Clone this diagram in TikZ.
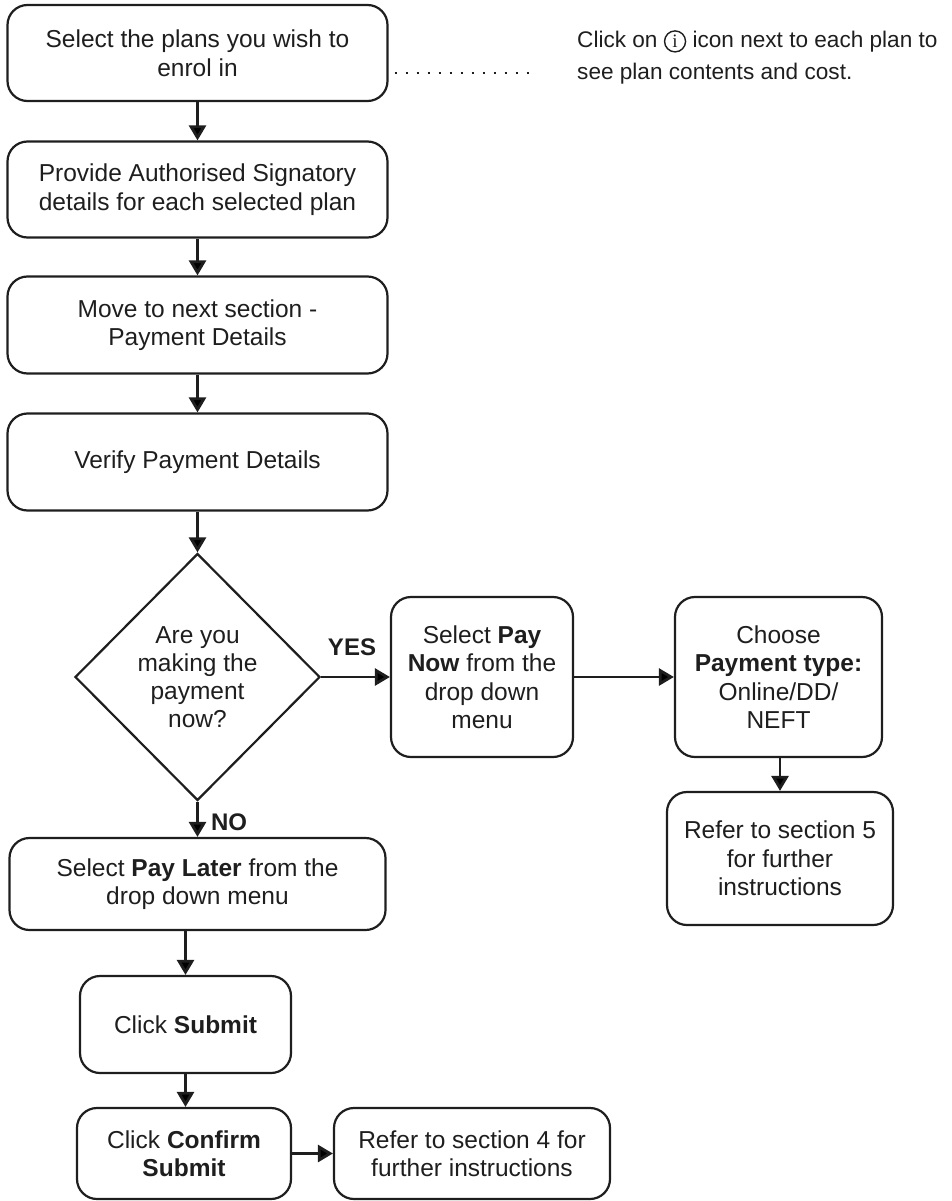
\documentclass[tikz,border=0pt]{standalone}
\usepackage{fontspec}
\setmainfont{Liberation Sans}
\newfontfamily\serifi{Liberation Serif}
\usetikzlibrary{shapes.geometric,arrows.meta}
\definecolor{ink}{HTML}{1E1E1E}
\tikzset{
  box/.style={draw=ink, line width=2.2pt, rounded corners=20pt, align=center, inner sep=2pt,
    font=\fontsize{24.5}{28.5}\selectfont, text=ink},
  arr/.style={draw=ink, line width=2.8pt, -{Triangle[length=15pt,width=17pt]}},
  lbl/.style={font=\fontsize{24}{29}\selectfont\bfseries, text=ink},
  note/.style={font=\fontsize{22.6}{32}\selectfont, text=ink, align=left, anchor=north west, inner sep=0pt},
}
\newcommand{\infoicon}{\tikz[baseline={([yshift=-6.5pt]ic.center)}]\node[circle, draw=ink, line width=1.4pt, inner sep=0pt, minimum size=21pt] (ic) {\serifi\fontsize{19}{19}\selectfont i};}
\begin{document}
\begin{tikzpicture}[x=1pt,y=-1pt]
\useasboundingbox (0,0) rectangle (951,1201);
% main column
\node[box, minimum width=380pt, minimum height=96pt] (b1) at (197.5,53) {Select the plans you wish to\\enrol in};
\node[box, minimum width=380pt, minimum height=96pt] (b2) at (197.5,189.5) {Provide Authorised Signatory\\details for each selected plan};
\node[box, minimum width=380pt, minimum height=97pt] (b3) at (197.5,325) {Move to next section -\\Payment Details};
\node[box, minimum width=380pt, minimum height=97pt] (b4) at (197.5,462) {Verify Payment Details};
\node[diamond, draw=ink, line width=2.2pt, minimum width=245pt, minimum height=247pt, inner sep=0pt] (d) at (197.5,677) {};
\node[align=center, font=\fontsize{24.5}{28}\selectfont, text=ink] (dt) at (d.center) {Are you\\making the\\payment\\now?};
\node[box, minimum width=182pt, minimum height=160pt] (yes) at (482,677) {Select \textbf{Pay}\\\textbf{Now} from the\\drop down\\menu};
\node[box, minimum width=207pt, minimum height=160pt] (ch) at (778.5,677) {Choose\\\textbf{Payment type:}\\Online/DD/\\NEFT};
\node[box, minimum width=226pt, minimum height=133pt] (r5) at (780,858.5) {Refer to section 5\\for further\\instructions};
\node[box, minimum width=376pt, minimum height=92pt] (pl) at (197.5,884) {Select \textbf{Pay Later} from the\\drop down menu};
\node[box, minimum width=211pt, minimum height=97pt] (sub) at (185.5,1024.5) {Click \textbf{Submit}};
\node[box, minimum width=214pt, minimum height=91pt] (cs) at (184,1153.5) {Click \textbf{Confirm}\\\textbf{Submit}};
\node[box, minimum width=276pt, minimum height=91pt] (r4) at (472,1153.5) {Refer to section 4 for\\further instructions};
% note
\node[note] (nt) at (577,30) {Click on \infoicon{} icon next to each plan to\\see plan contents and cost.};
\coordinate (dotend) at (530,73);
\draw[draw=ink, line width=2.8pt, dash pattern=on 2.5pt off 8.5pt] (b1.east |- dotend) ++(6,0) -- (dotend);
% labels
\node[lbl] (ylab) at (352,647) {YES};
\node[lbl] (nlab) at (229,822) {NO};
% connectors
\draw[arr] (b1) -- (b2);
\draw[arr] (b2) -- (b3);
\draw[arr] (b3) -- (b4);
\draw[arr] (b4) -- (d.north);
\draw[arr] (d.east) -- (yes);
\draw[arr] (yes) -- (ch);
\draw[arr] (ch.south -| r5) -- (r5.north);
\draw[arr] (d.south) -- (d.south |- pl.north);
\draw[arr] (pl.south -| sub) -- (sub.north);
\draw[arr] (sub) -- (sub.south |- cs.north);
\draw[arr] (cs) -- (r4);
\end{tikzpicture}
\end{document}
